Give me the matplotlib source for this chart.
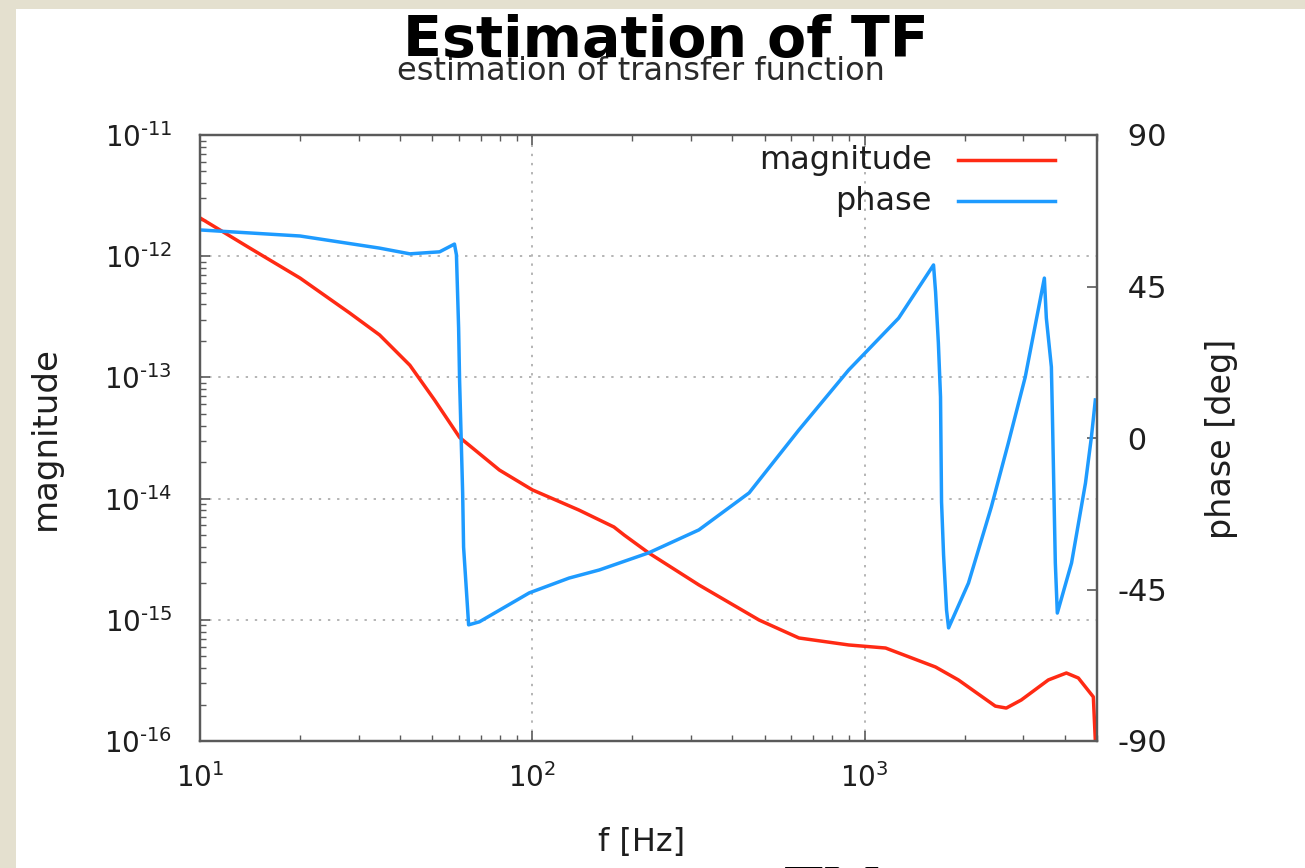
import matplotlib
matplotlib.use('Agg')
import matplotlib.pyplot as plt
import matplotlib.patches as mpatches
from matplotlib.ticker import FixedLocator, LogLocator, FuncFormatter, NullFormatter

plt.rcParams['font.family'] = ['DejaVu Sans']
plt.rcParams['mathtext.fontset'] = 'dejavusans'

# ---------------- data ----------------
freq_mag = [10.0, 14.1, 20.0, 28.2, 34.7, 42.8, 50.8, 60.4, 79.6, 100, 138, 176,
            189, 224, 317, 481, 634, 895, 1156, 1633, 1914, 2472, 2667, 2959,
            3569, 4044, 4394, 4875, 5000]
magnitude = [2.07e-12, 1.17e-12, 6.6e-13, 3.4e-13, 2.24e-13, 1.26e-13, 6.5e-14,
             3.2e-14, 1.72e-14, 1.18e-14, 8.05e-15, 5.83e-15, 5.0e-15, 3.56e-15,
             1.94e-15, 9.96e-16, 7.08e-16, 6.2e-16, 5.85e-16, 4.08e-16, 3.19e-16,
             1.94e-16, 1.87e-16, 2.18e-16, 3.19e-16, 3.64e-16, 3.31e-16, 2.31e-16,
             5e-17]

freq_phase = [10, 20, 34.7, 42.8, 52.6, 58.3, 59.1, 60.0, 60.4, 61.7, 62.1, 63.8,
              64.3, 69.3, 97.9, 129, 159, 224, 317, 449, 634, 895, 1265, 1611,
              1634, 1666, 1691, 1703, 1727, 1763, 1788, 2052, 2404, 2705, 3041,
              3472, 3520, 3645, 3670, 3695, 3720, 3746, 3798, 4192, 4616, 4810, 4943]
phase = [61.8, 60.0, 56.4, 54.7, 55.3, 57.6, 54.4, 32.7, 17.2, -16.3, -32.4, -50.2,
         -55.5, -54.6, -46.0, -41.6, -39.2, -34.1, -27.3, -16.3, 2.4, 20.2, 35.6, 51.4,
         43.4, 28.2, 12.2, -19.0, -34.7, -51.1, -56.4, -43.1, -20.5, -1.5, 18.1,
         47.5, 35.6, 21.1, 7.4, -7.4, -22.3, -37.1, -52.0, -37.1, -13.4, 0.3, 11.3]

series_names = ['magnitude', 'phase']
phase_ticks = [-90, -45, 0, 45, 90]
phase_ticklabels = ['-90', '-45', ' 0', ' 45', ' 90']

# ---------------- figure ----------------
W, H = 1305, 868
fig = plt.figure(figsize=(W / 100, H / 100), dpi=100)
fig.patch.set_facecolor('#e4e0cf')
fig.add_artist(mpatches.Rectangle((16 / W, 0), 1, 1 - 9 / H, transform=fig.transFigure,
                                  facecolor='white', edgecolor='none', zorder=0))

RED = '#ff2a14'
BLUE = '#1e9bff'
TXT = '#1e1e1e'
SPINE = '#5a5a5a'

ax = fig.add_axes([200 / W, 1 - 741 / H, 897 / W, 606 / H])
ax.set_facecolor('white')
ax2 = ax.twinx()

ax.set_xscale('log')
ax.set_yscale('log')
ax.set_xlim(10, 5000)
ax.set_ylim(1e-16, 1e-11)
ax2.set_ylim(-90, 90)

ax.plot(freq_mag, magnitude, color=RED, lw=2.5, solid_joinstyle='round')
ax2.plot(freq_phase, phase, color=BLUE, lw=2.5, solid_joinstyle='round')

# grid
ax.grid(True, which='major', linestyle=(0, (1.2, 3.5)), color='#b4b4b4', linewidth=1.4)
ax.set_axisbelow(True)

def pow_fmt(v, pos):
    import math
    e = int(round(math.log10(v)))
    s = str(e).replace('-', '\u2010')
    return r'$\mathregular{10^{%s}}$' % s

ax.xaxis.set_major_locator(FixedLocator([10, 100, 1000]))
ax.xaxis.set_minor_locator(LogLocator(base=10, subs=range(2, 10), numticks=20))
ax.xaxis.set_major_formatter(FuncFormatter(pow_fmt))
ax.xaxis.set_minor_formatter(NullFormatter())
ax.yaxis.set_major_locator(LogLocator(base=10, numticks=10))
ax.yaxis.set_minor_locator(LogLocator(base=10, subs=range(2, 10), numticks=20))
ax.yaxis.set_major_formatter(FuncFormatter(pow_fmt))
ax.yaxis.set_minor_formatter(NullFormatter())

ax.tick_params(axis='x', which='both', direction='in', top=True, bottom=True,
               colors=SPINE, labelcolor=TXT, labelsize=20, pad=16)
ax.tick_params(axis='y', which='both', direction='in', left=True, right=False,
               colors=SPINE, labelcolor=TXT, labelsize=20, pad=20)
ax.tick_params(which='major', length=7, width=1.2)
ax.tick_params(which='minor', length=4, width=1.0)

ax2.set_yticks(phase_ticks)
ax2.set_yticklabels(phase_ticklabels)
ax2.tick_params(axis='y', direction='in', right=True, length=7, width=1.2,
                colors=SPINE, labelcolor=TXT, labelsize=22, pad=15)

for a in (ax, ax2):
    for s in a.spines.values():
        s.set_color(SPINE)
        s.set_linewidth(1.6)

# legend (gnuplot style: text right-aligned, sample line to the right)
for i, (name, col) in enumerate(zip(series_names, [RED, BLUE])):
    yy = 0.9587 - i * 0.0677
    ax2.plot([0.845, 0.953], [yy, yy], color=col, lw=2.5, transform=ax2.transAxes,
             clip_on=False)
    ax2.text(0.816, yy, name, transform=ax2.transAxes, ha='right', va='center',
             fontsize=23, color=TXT)

# axis labels
fig.text(45 / W, 1 - 438 / H, 'magnitude', rotation=90, ha='center', va='center',
         fontsize=24.5, color=TXT)
fig.text(1222 / W, 1 - 439 / H, 'phase [deg]', rotation=90, ha='center', va='center',
         fontsize=24, color=TXT)
fig.text(642 / W, 1 - 843 / H, 'f [Hz]', ha='center', va='center', fontsize=23, color=TXT)

# titles
fig.text(641 / W, 1 - 71 / H, 'estimation of transfer function', ha='center',
         va='center', fontsize=23, color='#2a2a2a')
fig.text(666 / W, 1 - 41 / H, 'Estimation of TF', ha='center', va='center',
         fontsize=41, fontweight='bold', family='DejaVu Sans', color='black')

# slide text cut off at the bottom edge
fig.text(779 / W, 1 - 866 / H, 'EXcerpts', ha='left', va='top', fontsize=58,
         fontweight='black', family='Lato', color='black')

fig.savefig('out.png', dpi=100, facecolor=fig.get_facecolor())
